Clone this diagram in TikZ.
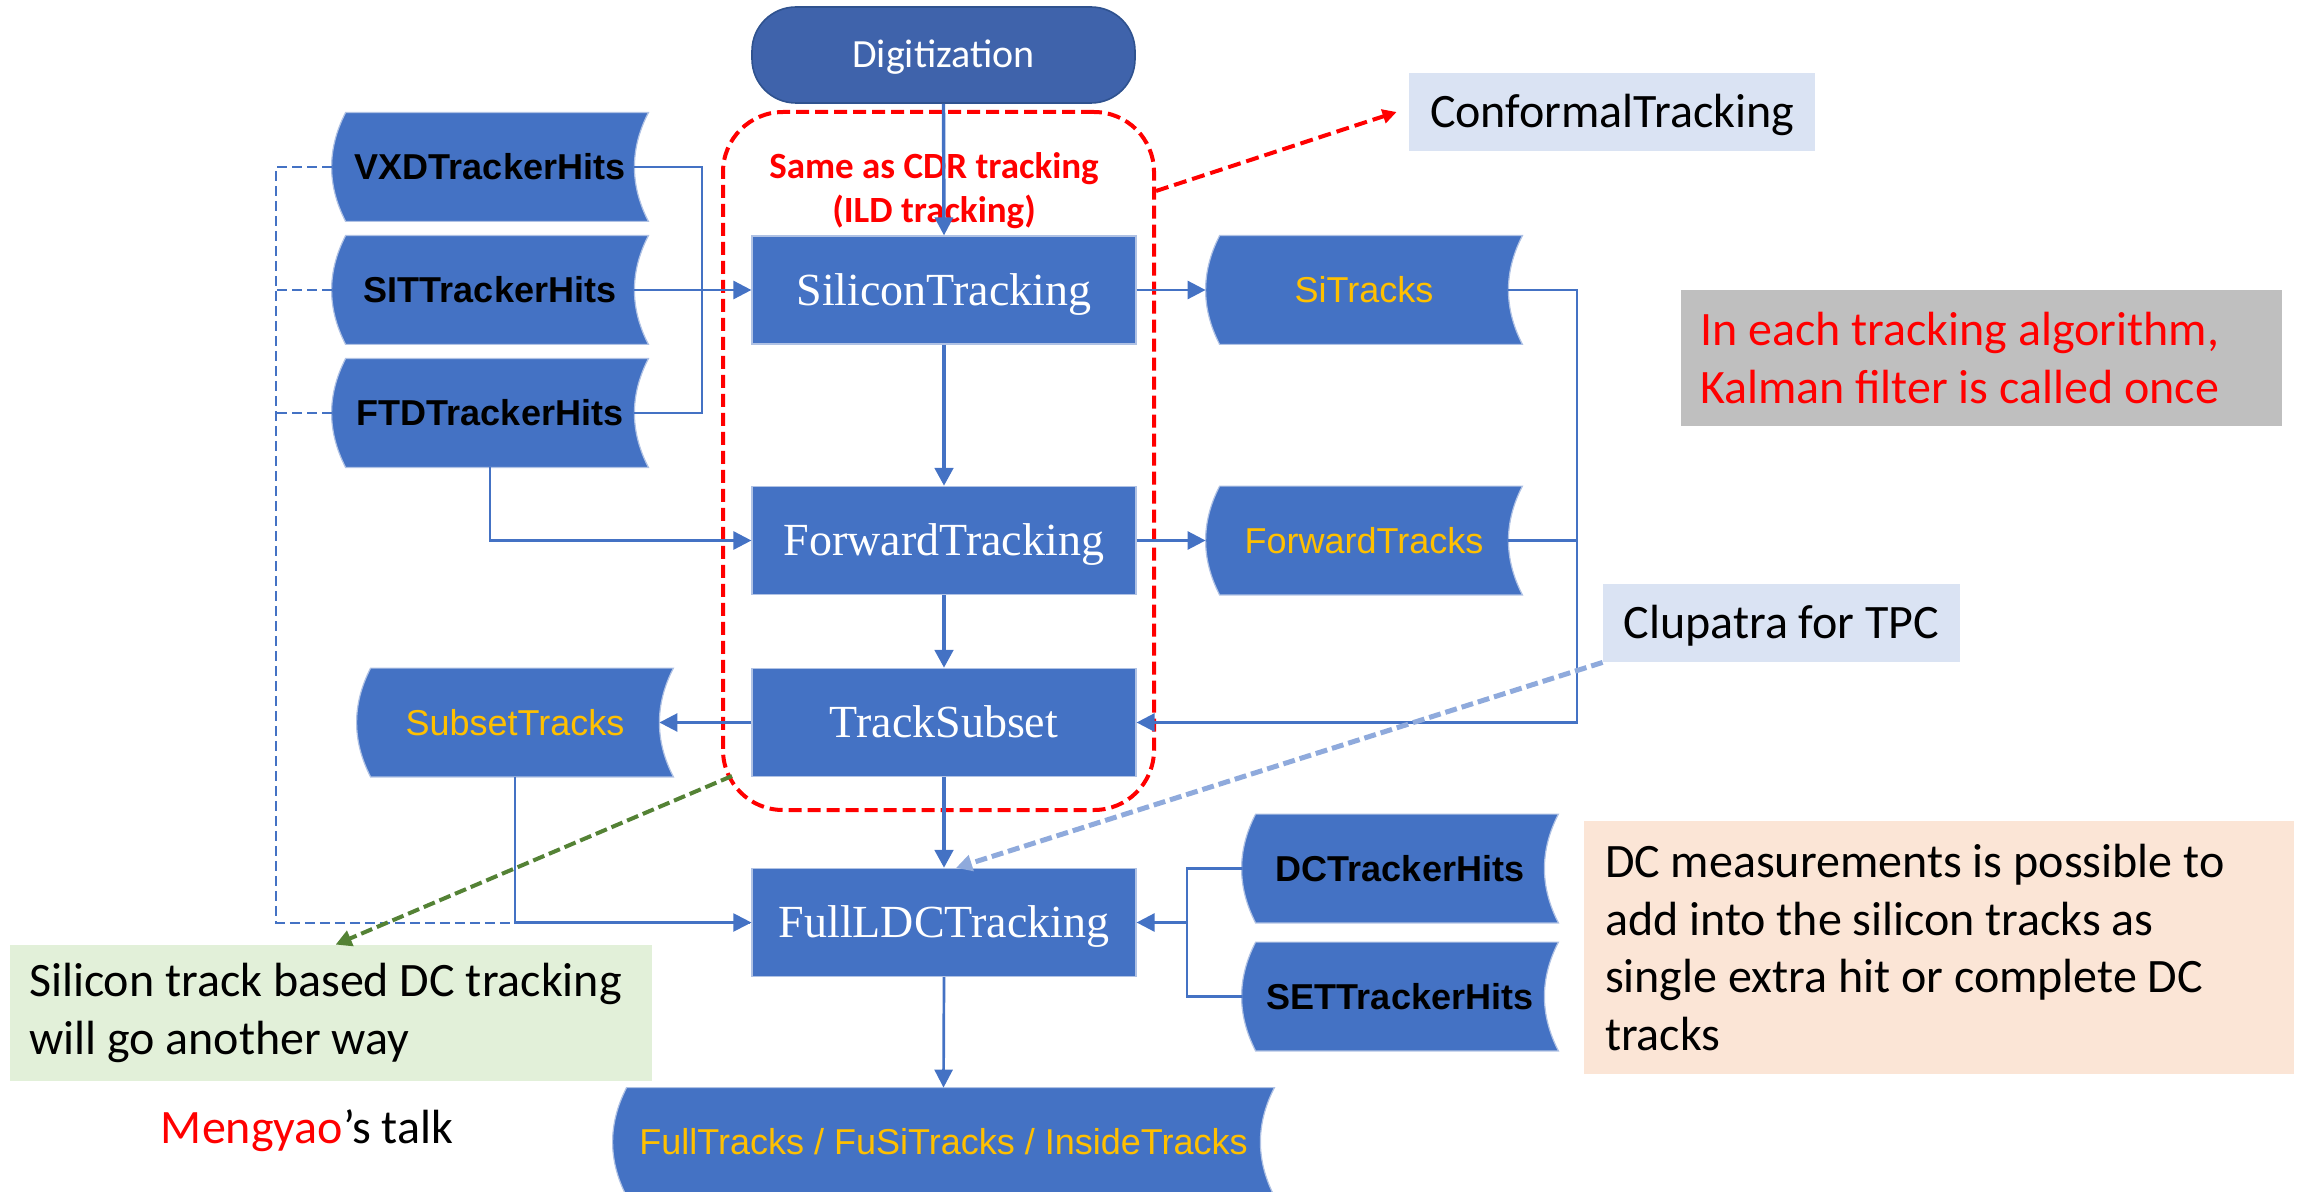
\documentclass[tikz,border=0pt]{standalone}
\usepackage{fontspec}
\setmainfont{Carlito}
\newfontfamily\arialf{Liberation Sans}
\newfontfamily\timesf{Liberation Serif}
\usetikzlibrary{calc,arrows.meta}
\pgfdeclarelayer{bg}
\pgfsetlayers{bg,main}
\hyphenpenalty=10000
\exhyphenpenalty=10000
\newcommand\natsp{\spaceskip=0pt\xspaceskip=0pt\relax}

\definecolor{boxblue}{HTML}{4472C4}
\definecolor{digblue}{HTML}{3F63AB}
\definecolor{digedge}{HTML}{2F528F}
\definecolor{boxedge}{HTML}{B0C2E4}
\definecolor{tyellow}{HTML}{FFC000}
\definecolor{cfill}{HTML}{DAE3F3}
\definecolor{gfill}{HTML}{BFBFBF}
\definecolor{greenfill}{HTML}{E2F0D9}
\definecolor{dcfill}{HTML}{FBE5D6}
\definecolor{dgreen}{HTML}{548235}
\definecolor{lblue}{HTML}{8FAADC}

\tikzset{
  sdshape/.style={fill=boxblue, draw=boxedge, line width=0.6pt},
  sdnode/.style={inner sep=0pt, minimum width=158pt, minimum height=54pt,
    text height=12.9pt, text depth=0pt,
    font=\arialf\bfseries\fontsize{18}{21}\selectfont, text=black},
  sdout/.style={sdnode, font=\arialf\fontsize{18}{21}\selectfont, text=tyellow},
  algo/.style={rectangle, fill=boxblue, draw=boxedge, line width=0.6pt,
    minimum width=192pt, minimum height=54pt, inner sep=0pt, text=white,
    text height=15.2pt, text depth=0pt,
    font=\timesf\fontsize{23}{27}\selectfont},
  digi/.style={rectangle, rounded corners=22pt, fill=digblue, draw=digedge, line width=0.8pt,
    minimum width=191.5pt, minimum height=48pt, inner sep=0pt, text=white,
    text height=12.9pt, text depth=0pt,
    font=\fontsize{20}{24}\selectfont},
  note/.style={inner ysep=0pt, font=\fontsize{24}{28.8}\selectfont},
  onenote/.style={note, text height=15.5pt, text depth=0pt},
  conn/.style={draw=boxblue, line width=1.35pt},
  thick conn/.style={draw=boxblue, line width=2.4pt},
  arr/.style={conn, -{Triangle[length=9pt,width=9pt]}},
  dashl/.style={draw=boxblue, line width=1pt, dash pattern=on 5pt off 2.5pt},
  reddash/.style={draw=red, line width=2pt, dash pattern=on 6.5pt off 3pt},
  bluedash/.style={draw=lblue, line width=2.5pt, dash pattern=on 6pt off 2.5pt},
  greendash/.style={draw=dgreen, line width=2pt, dash pattern=on 6pt off 2.5pt},
}

\newcommand\sdfill[1]{%
  \begin{pgfonlayer}{bg}
  \path[sdshape] ([xshift=7pt]#1.north west) -- (#1.north east)
    .. controls ($(#1.north east)!0.3333!(#1.south east)+(-9.33pt,0pt)$)
            and ($(#1.north east)!0.6667!(#1.south east)+(-9.33pt,0pt)$) .. (#1.south east)
    -- ([xshift=7pt]#1.south west)
    .. controls ($(#1.south west)!0.3333!(#1.north west)+(-2.33pt,0pt)$)
            and ($(#1.south west)!0.6667!(#1.north west)+(-2.33pt,0pt)$) .. ([xshift=7pt]#1.north west)
    -- cycle;
  \end{pgfonlayer}}

\begin{document}
\begin{tikzpicture}[x=0.5pt,y=-0.5pt]
\useasboundingbox (0,0) rectangle (2300,1192);

% notes
\node[onenote, fill=cfill, minimum width=203pt, minimum height=39pt] (conf) at (1612,112) {ConformalTracking};
\node[note, fill=gfill, inner xsep=9.5pt, text width=281.5pt, align=left, minimum height=68pt, text=red] (gray) at (1981.5,358)
  {\natsp In each tracking algorithm,\\Kalman filter is called once};
\node[onenote, fill=cfill, minimum width=178.5pt, minimum height=39pt] (clup) at (1781.5,623) {Clupatra for TPC};
\node[note, fill=greenfill, inner xsep=9.5pt, text width=302pt, align=left, minimum height=68pt] (green) at (331,1013)
  {\natsp Silicon track based DC tracking\\will go another way};
\node[note, fill=dcfill, inner xsep=10.5pt, text width=334pt, align=left, minimum height=126.5pt] (dcn) at (1939,947.5)
  {\natsp DC measurements is possible to\\add into the silicon tracks as\\single extra hit or complete DC\\tracks};
\node[onenote, inner sep=0pt] (talk) at (307,1128) {\textcolor{red}{Mengyao}’s talk};

% process boxes
\node[digi] (dig) at (943.5,55) {Digitization};
\node[algo] (sil) at (944,290) {SiliconTracking};
\node[algo] (fwd) at (944,540.5) {ForwardTracking};
\node[algo] (ts) at (944,722.5) {TrackSubset};
\node[algo] (full) at (944,922.5) {FullLDCTracking};

% data shapes
\node[sdnode] (vxd) at (490,167) {VXDTrackerHits};
\node[sdnode] (sit) at (490,290) {SITTrackerHits};
\node[sdnode] (ftd) at (490,413) {FTDTrackerHits};
\node[sdout] (sub) at (515,722.5) {SubsetTracks};
\node[sdout] (sitr) at (1364,290) {SiTracks};
\node[sdout] (fwtr) at (1364,540.5) {ForwardTracks};
\node[sdnode] (dc) at (1400,868.5) {DCTrackerHits};
\node[sdnode] (set) at (1400,996.5) {SETTrackerHits};
\node[sdout, minimum width=330.5pt] (ftr) at (943.5,1142) {FullTracks / FuSiTracks / InsideTracks};
\sdfill{vxd}\sdfill{sit}\sdfill{ftd}\sdfill{sub}\sdfill{sitr}\sdfill{fwtr}\sdfill{dc}\sdfill{set}\sdfill{ftr}

% red group
\node[draw=red, line width=2pt, dash pattern=on 6.5pt off 3pt, rounded corners=30pt,
  minimum width=215.5pt, minimum height=349pt, inner sep=0pt] (cdr) at (938.5,461) {};
\node[font=\bfseries\fontsize{18.5}{22}\selectfont, text=red, align=center] (cdrt) at (934,191)
  {Same as CDR tracking\\(ILD tracking)};

% connectors
\draw[arr, line width=1.7pt] (dig.south) -- (sil.north);
\coordinate (jn) at (702,290);
\draw[conn] ([xshift=-7pt]vxd.east) -| (jn) |- ([xshift=-7pt]ftd.east);
\draw[arr] ([xshift=-7pt]sit.east) -- (sil.west);
\coordinate (lft) at (276,922.5);
\draw[dashl] (vxd.west) -| (lft) -- (full.west);
\draw[dashl] (sit.west) -- (sit.west -| lft);
\draw[dashl] (ftd.west) -- (ftd.west -| lft);
\draw[arr] (ftd.south) |- (fwd.west);
\draw[arr, thick conn] (sil.south) -- (fwd.north);
\draw[arr, thick conn] (fwd.south) -- (ts.north);
\draw[arr] (ts.west) -- ([xshift=-7pt]sub.east);
\draw[arr, line width=1.1pt] (sub.south) |- (full.west);
\draw[arr] (sil.east) -- (sitr.west);
\draw[arr] (fwd.east) -- (fwtr.west);
\coordinate (rj) at (1577,540.5);
\draw[arr] ([xshift=-7pt]sitr.east) -| (rj) |- (ts.east);
\draw[conn] ([xshift=-7pt]fwtr.east) -- (rj);
\draw[arr, thick conn] (ts.south) -- (full.north);
\coordinate (dj) at (1187,922.5);
\draw[conn] (dc.west) -| (dj) |- (set.west);
\draw[arr] (dj) -- (full.east);
\draw[arr] (full.south) -- (ftr.north);

% annotation arrows
\draw[reddash, -{Triangle[length=7pt,width=7pt]}] ($(cdr.north east)+(0,81)$) -- ([xshift=-6pt]conf.west);
\draw[bluedash, -{Triangle[length=8pt,width=8pt]}] (clup.south west) -- ($(full.north)+(12,0)$);
\draw[greendash, -{Triangle[length=8pt,width=8pt]}] ($(cdr.south west)+(11,-36)$) -- ($(green.north west)+(326,0)$);
\end{tikzpicture}
\end{document}
